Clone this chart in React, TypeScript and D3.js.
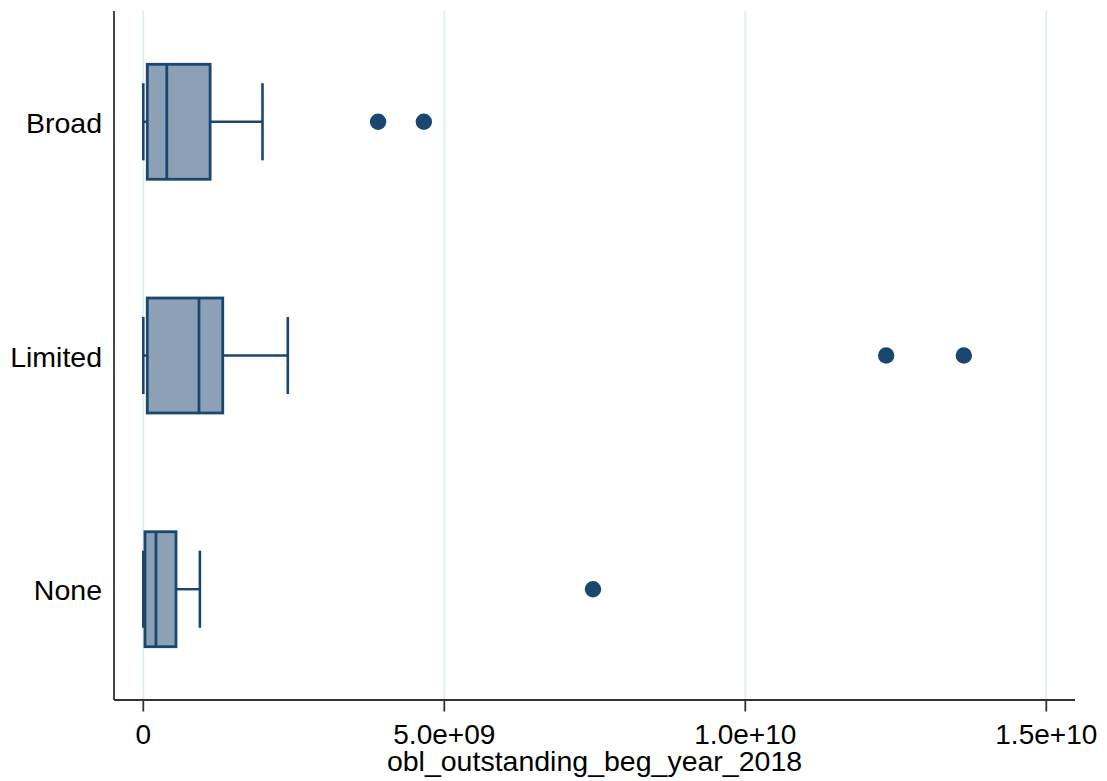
import React from "react";
import * as d3 from "d3";

// Summary statistics per category (values in currency units)
const categories = ["Broad", "Limited", "None"];
const lowerWhisker = [0, 0, 0];
const q1 = [6.6e7, 6.6e7, 2.8e7];
const median = [3.9e8, 9.25e8, 2.1e8];
const q3 = [1.11e9, 1.32e9, 5.43e8];
const upperWhisker = [1.98e9, 2.4e9, 9.4e8];
const outliers = [[3.9e9, 4.66e9], [1.234e10, 1.363e10], [7.47e9]];
const xTicks = [0, 5e9, 1e10, 1.5e10];
const xTickLabels = ["0", "5.0e+09", "1.0e+10", "1.5e+10"];
const xTitle = "obl_outstanding_beg_year_2018";

const W = 1107;
const H = 781;
const plotLeft = 114;
const plotRight = 1075;
const plotTop = 11;
const plotBottom = 700;

const navy = "#1a476f";
const boxFill = "#8ca1b6";
const gridColor = "#e2edf0";
const font = "'Liberation Sans', Arial, sans-serif";

export default function App() {
  const x = d3.scaleLinear().domain([0, 1.5e10]).range([143.3, 1046.3]);
  const y = d3.scalePoint<string>().domain(categories).range([plotTop, plotBottom]).padding(0.474);
  const step = y.step();
  const boxH = step * 0.492;
  const capH = step * 0.33;

  return (
    <svg width={W} height={H} style={{ position: "absolute", left: 0, top: 0, background: "#fff" }}>
      {/* vertical grid */}
      {xTicks.map((t) => (
        <line key={"g" + t} x1={x(t)} x2={x(t)} y1={plotTop} y2={plotBottom} stroke={gridColor} strokeWidth={1.8} />
      ))}

      {/* boxes */}
      {categories.map((c, i) => {
        const cy = y(c)!;
        return (
          <g key={c}>
            <line x1={x(lowerWhisker[i])} x2={x(q1[i])} y1={cy} y2={cy} stroke={navy} strokeWidth={2.4} />
            <line x1={x(lowerWhisker[i])} x2={x(lowerWhisker[i])} y1={cy - capH / 2} y2={cy + capH / 2} stroke={navy} strokeWidth={2.6} />
            <line x1={x(q3[i])} x2={x(upperWhisker[i])} y1={cy} y2={cy} stroke={navy} strokeWidth={2.4} />
            <line x1={x(upperWhisker[i])} x2={x(upperWhisker[i])} y1={cy - capH / 2} y2={cy + capH / 2} stroke={navy} strokeWidth={2.6} />
            <rect
              x={x(q1[i])}
              y={cy - boxH / 2}
              width={x(q3[i]) - x(q1[i])}
              height={boxH}
              fill={boxFill}
              stroke={navy}
              strokeWidth={2.8}
            />
            <line x1={x(median[i])} x2={x(median[i])} y1={cy - boxH / 2} y2={cy + boxH / 2} stroke={navy} strokeWidth={2.8} />
            {outliers[i].map((v, k) => (
              <circle key={k} cx={x(v)} cy={cy} r={8.2} fill={navy} />
            ))}
          </g>
        );
      })}

      {/* axes */}
      <line x1={plotLeft} x2={plotLeft} y1={plotTop} y2={plotBottom} stroke="#333" strokeWidth={1.8} />
      <line x1={plotLeft} x2={plotRight} y1={plotBottom} y2={plotBottom} stroke="#333" strokeWidth={1.8} />
      {xTicks.map((t, i) => (
        <g key={"t" + t}>
          <line x1={x(t)} x2={x(t)} y1={plotBottom} y2={plotBottom + 11.5} stroke="#333" strokeWidth={1.8} />
          <text x={x(t)} y={744} textAnchor="middle" fontFamily={font} fontSize={28} fill="#000">
            {xTickLabels[i]}
          </text>
        </g>
      ))}
      {categories.map((c) => (
        <text key={"l" + c} x={102} y={y(c)! + 11} textAnchor="end" fontFamily={font} fontSize={28.5} fill="#000">
          {c}
        </text>
      ))}
      <text x={(plotLeft + plotRight) / 2} y={771} textAnchor="middle" fontFamily={font} fontSize={28.5} fill="#000">
        {xTitle}
      </text>
    </svg>
  );
}
